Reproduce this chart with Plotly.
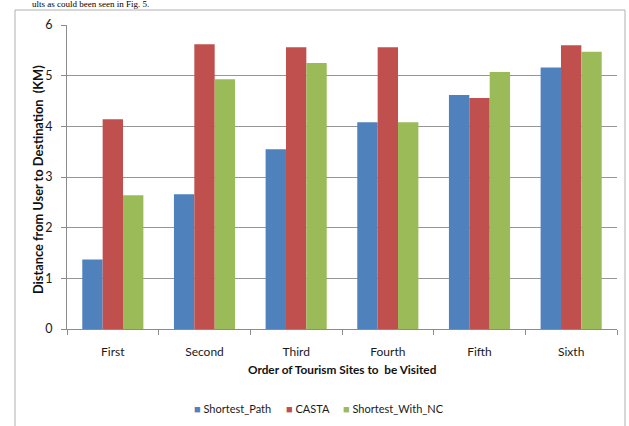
import plotly.graph_objects as go

# Order of the sites visited
categories = ["First", "Second", "Third", "Fourth", "Fifth", "Sixth"]

# Distance from user to destination (KM) per routing method
series_names = ["Shortest_Path", "CASTA", "Shortest_With_NC"]
shortest_path = [1.37, 2.66, 3.55, 4.08, 4.62, 5.16]
casta = [4.14, 5.62, 5.56, 5.56, 4.56, 5.60]
shortest_with_nc = [2.64, 4.93, 5.25, 4.08, 5.07, 5.47]
series_colors = ["#4F81BD", "#C0504D", "#9BBB59"]

y_ticks = [0, 1, 2, 3, 4, 5, 6]

W, H = 629, 426
L, R, T, B = 67, 12, 25, 97
plot_w = W - L - R
plot_h = H - T - B

font_main = "Lato, Roboto, sans-serif"
axis_grey = "#8c8c8c"
text_col = "#1a1a1a"


def px_x(p):
    return (p - L) / plot_w


def px_y(p):
    return (H - B - p) / plot_h


fig = go.Figure()
for name, vals, color in zip(series_names,
                             [shortest_path, casta, shortest_with_nc],
                             series_colors):
    fig.add_trace(go.Bar(x=categories, y=vals, name=name,
                         marker=dict(color=color, line=dict(width=0))))

# compact legend row: small square key followed by the series name
legend_left = [192, 284, 341]
legend_notes = [
    dict(text=f"<span style='color:{c}'>■</span> {n}",
         xref="paper", yref="paper", x=px_x(x0), y=px_y(408),
         xanchor="left", yanchor="middle", showarrow=False,
         font=dict(size=11, color=text_col))
    for n, c, x0 in zip(series_names, series_colors, legend_left)
]

fig.update_layout(
    width=W, height=H,
    margin=dict(l=L, r=R, t=T, b=B),
    paper_bgcolor="white", plot_bgcolor="white",
    barmode="group", bargap=1.5 / 4.5, bargroupgap=0,
    font=dict(family=font_main, size=12, color=text_col),
    showlegend=False,
    xaxis=dict(
        showline=True, linecolor=axis_grey, linewidth=1,
        ticks="outside", ticklen=5, tickcolor=axis_grey,
        tickson="boundaries", showgrid=False,
        ticklabelstandoff=12,
        tickfont=dict(size=12, color=text_col),
    ),
    yaxis=dict(
        range=[0, 6], tickvals=y_ticks,
        showline=True, linecolor=axis_grey, linewidth=1,
        ticks="outside", ticklen=5, tickcolor=axis_grey,
        showgrid=True, gridcolor="#969696", gridwidth=1,
        zeroline=False, ticklabelstandoff=6,
        tickfont=dict(size=12.5, color=text_col),
    ),
    shapes=[
        dict(type="rect", xref="paper", yref="paper",
             x0=px_x(15), x1=px_x(625), y0=px_y(440), y1=px_y(10),
             line=dict(color="#b0b0b0", width=1), fillcolor="rgba(0,0,0,0)",
             layer="below"),
    ],
    annotations=[
        dict(text="<b>Order of Tourism Sites to  be Visited</b>",
             xref="paper", yref="paper", x=0.5, y=px_y(369),
             xanchor="center", yanchor="middle", showarrow=False,
             font=dict(size=11.8, color="#111111")),
        dict(text="<b>Distance from User to Destination  (KM)</b>",
             xref="paper", yref="paper", x=px_x(38), y=px_y(180),
             xanchor="center", yanchor="middle", textangle=-90,
             showarrow=False, font=dict(size=12.8, color="#111111")),
        dict(text="ults as could been seen in Fig. 5.",
             xref="paper", yref="paper", x=px_x(30), y=px_y(4),
             xanchor="left", yanchor="middle", showarrow=False,
             font=dict(family="Liberation Serif, serif", size=9,
                       color="#000000")),
    ] + legend_notes,
)

fig.write_html("out.html")
